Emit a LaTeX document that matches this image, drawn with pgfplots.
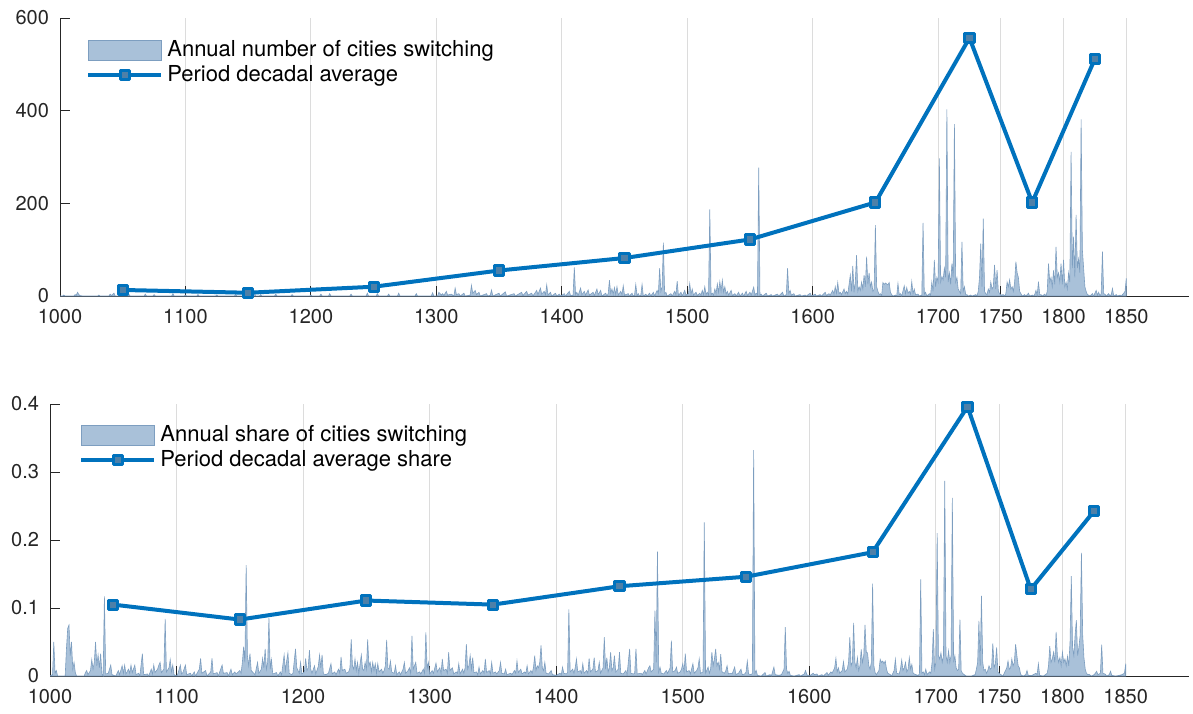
\documentclass[border=0pt]{standalone}
\usepackage{fontspec}
\setmainfont{TeX Gyre Heros}
\usepackage{pgfplots}
\pgfplotsset{compat=1.18}

\definecolor{linecol}{RGB}{0,114,189}
\definecolor{markfill}{RGB}{78,128,168}
\definecolor{areafill}{RGB}{169,193,217}
\definecolor{areaedge}{RGB}{125,158,192}
\definecolor{axiscol}{RGB}{38,38,38}
\definecolor{gridcol}{RGB}{220,220,220}

\pgfplotsset{
  panel/.style={
    scale only axis,
    anchor=south west,
    xmin=1000, xmax=1900,
    ymin=0,
    xtick={1000,1100,1200,1300,1400,1500,1600,1700,1750,1800,1850},
    axis lines=left,
    axis line style={-, draw=axiscol, line width=0.5pt},
    tick align=inside,
    major tick length=5pt,
    tick style={draw=axiscol, line width=0.5pt},
    xmajorgrids=true,
    major grid style={draw=gridcol, line width=0.4pt},
    ticklabel style={font=\fontsize{10}{12}\selectfont, text=axiscol},
    xticklabel style={yshift=-3pt},
    yticklabel style={xshift=-2pt},
    /pgf/number format/assume math mode=true,
    /pgf/number format/1000 sep={},
    legend cell align=left,
    legend style={draw=none, fill=none, inner sep=0pt, row sep=-1.2pt,
      font=\fontsize{11}{12}\selectfont, anchor=north west},
  },
  arealeg/.style={legend image code/.code={\path[##1] (0pt,-5pt) rectangle (36.5pt,5pt);}},
  lineleg/.style={legend image code/.code={\draw[mark repeat=2,mark phase=2,##1]
      plot coordinates {(0pt,0pt) (18.25pt,0pt) (36.5pt,0pt)};}},
  annual/.style={fill=areafill, draw=areaedge, line width=0.3pt, arealeg},
  decadal/.style={color=linecol, line width=2pt, mark=square*, mark size=2.3pt,
    mark options={draw=linecol, fill=markfill, line width=1.5pt, line join=round}, lineleg},
}

\begin{document}
\begin{tikzpicture}
\useasboundingbox (0pt,0pt) rectangle (596.5pt,356.5pt);

% top panel: number of cities
\begin{axis}[panel, at={(30pt,208.5pt)}, width=564.5pt, height=139pt,
  ymax=600, ytick={0,200,400,600},
  legend style={at={(0.023,0.935)}}]
\addplot[annual] table {
1000 0
1002 0
1003 2
1004 0
1011 0
1012 3
1013 2
1014 8
1015 3
1016 1
1018 0
1030 0
1031 2
1032 0
1039 0
1040 4
1041 1
1043 6
1044 0
1054 0
1055 3
1056 0
1067 0
1068 4
1069 0
1074 0
1075 3
1076 0
1089 0
1090 5
1091 0
1099 0
1100 2
1101 0
1109 0
1110 3
1111 0
1124 0
1125 2
1126 0
1139 0
1140 4
1141 0
1154 0
1155 7
1156 0
1159 0
1160 3
1161 0
1171 0
1172 4
1173 0
1184 0
1185 3
1186 0
1199 0
1200 2
1201 0
1207 0
1208 4
1209 0
1214 0
1215 5
1216 0
1231 0
1232 4
1233 0
1244 0
1245 6
1246 0
1252 0
1253 5
1254 0
1261 0
1262 4
1263 0
1269 0
1270 6
1271 0
1283 0
1284 5
1285 0
1296 0
1297 7
1298 0
1301 0
1302 8
1304 2
1305 5
1306 1
1308 10
1309 2
1312 4
1314 0
1315 17
1316 3
1318 5
1319 0
1322 6
1323 0
1327 2
1328 23
1329 6
1331 12
1332 3
1334 8
1335 0
1340 5
1341 0
1343 2
1344 13
1345 0
1350 6
1351 0
1355 9
1356 0
1362 5
1363 0
1368 8
1369 1
1372 10
1373 2
1376 6
1377 0
1380 12
1381 3
1383 17
1384 4
1386 10
1387 3
1388 24
1389 2
1391 8
1392 0
1395 6
1396 0
1398 4
1399 0
1402 5
1403 0
1406 10
1407 1
1409 2
1410 62
1411 3
1412 8
1413 1
1415 17
1416 3
1418 10
1419 2
1421 13
1422 2
1425 8
1426 1
1428 15
1429 3
1431 12
1432 0
1435 6
1436 0
1437 5
1438 34
1439 6
1440 15
1441 4
1442 18
1443 3
1444 20
1445 2
1447 10
1448 3
1449 22
1450 2
1453 5
1454 0
1456 6
1457 0
1458 2
1459 25
1460 1
1461 5
1462 0
1463 2
1464 25
1465 0
1467 4
1468 0
1470 6
1471 0
1473 8
1474 0
1476 12
1477 5
1478 60
1479 10
1480 20
1481 115
1482 5
1483 8
1484 0
1487 5
1488 0
1490 10
1491 3
1492 32
1493 1
1495 8
1496 0
1498 12
1499 2
1501 5
1502 27
1503 4
1504 15
1505 2
1507 8
1508 1
1510 6
1511 2
1512 12
1513 3
1514 20
1515 3
1516 8
1517 2
1518 187
1519 3
1520 6
1521 2
1522 15
1523 5
1524 26
1525 8
1526 31
1527 10
1528 34
1529 8
1530 20
1531 4
1532 10
1533 2
1535 12
1536 1
1538 5
1539 0
1541 8
1542 0
1544 6
1545 0
1547 10
1548 1
1550 8
1551 2
1553 19
1554 2
1555 6
1556 3
1557 277
1558 2
1559 4
1560 0
1563 6
1564 0
1567 3
1568 0
1572 4
1573 0
1576 8
1577 0
1579 3
1580 60
1581 5
1582 12
1583 2
1585 5
1586 0
1590 3
1591 0
1594 2
1595 0
1598 6
1599 0
1602 4
1603 0
1606 3
1607 0
1610 8
1611 1
1613 5
1614 2
1616 12
1617 4
1618 20
1619 6
1620 29
1621 5
1622 8
1623 3
1625 15
1626 5
1627 10
1628 4
1630 45
1631 10
1632 65
1633 8
1634 30
1635 88
1636 10
1637 20
1638 12
1639 30
1640 15
1641 45
1642 20
1643 85
1644 25
1645 50
1646 20
1647 30
1648 10
1649 15
1650 153
1651 20
1652 10
1653 3
1654 5
1655 1
1656 29
1657 25
1658 28
1659 26
1660 24
1661 29
1662 8
1663 3
1664 0
1666 2
1667 0
1668 27
1669 3
1670 5
1671 0
1673 22
1674 5
1675 18
1676 6
1677 10
1678 4
1679 31
1680 5
1681 15
1682 3
1684 4
1685 0
1687 2
1688 158
1689 4
1690 8
1691 0
1693 5
1694 2
1695 30
1696 10
1697 78
1698 20
1699 40
1700 30
1701 297
1702 30
1703 42
1704 35
1705 60
1706 40
1707 403
1708 30
1709 50
1710 25
1711 70
1712 40
1713 371
1714 30
1715 40
1716 15
1717 10
1718 5
1719 117
1720 10
1721 20
1722 3
1723 3
1724 0
1726 2
1727 0
1730 3
1731 0
1732 10
1733 40
1734 113
1735 20
1736 167
1737 10
1738 5
1739 3
1740 15
1741 8
1742 30
1743 15
1744 20
1745 67
1746 15
1747 56
1748 10
1749 5
1750 2
1752 3
1753 0
1754 5
1755 30
1756 20
1757 35
1758 15
1759 20
1760 10
1761 30
1762 74
1763 50
1764 40
1765 10
1766 5
1767 0
1769 3
1770 0
1772 6
1773 0
1775 2
1776 0
1777 3
1778 12
1779 2
1780 31
1781 3
1782 3
1783 0
1785 4
1786 0
1787 10
1788 70
1789 30
1790 40
1791 20
1792 55
1793 25
1794 106
1795 40
1796 50
1797 30
1798 70
1799 25
1800 78
1801 20
1802 30
1803 15
1804 50
1805 30
1806 311
1807 60
1808 128
1809 40
1810 175
1811 60
1812 80
1813 50
1814 381
1815 100
1816 60
1817 20
1818 10
1819 3
1820 2
1821 0
1823 5
1824 0
1826 12
1827 2
1828 8
1829 0
1830 5
1831 96
1832 5
1833 4
1834 0
1836 5
1837 0
1838 3
1839 16
1840 0
1842 3
1843 0
1845 2
1846 0
1848 6
1849 10
1850 38
} \closedcycle;
\addlegendentry{Annual number of cities switching}
\addplot[decadal] coordinates {
  (1050,13) (1150,7) (1250,20) (1350,55) (1450,82)
  (1550,122) (1650,202) (1725,557) (1775,202) (1825,512)
};
\addlegendentry{Period decadal average}
\end{axis}

% bottom panel: share of cities
\begin{axis}[panel, at={(25pt,18.5pt)}, width=569.5pt, height=136pt,
  ymax=0.4, ytick={0,0.1,0.2,0.3,0.4},
  legend style={at={(0.0255,0.937)}}]
\addplot[annual] table {
1000 0
1002 0.002
1003 0.05
1004 0.004
1005 0.008
1006 0
1012 0
1013 0.04
1014 0.07
1015 0.075
1016 0.03
1017 0.05
1018 0.01
1019 0.02
1020 0.005
1021 0
1027 0
1028 0.005
1029 0.008
1030 0.002
1032 0.008
1033 0.024
1034 0.01
1035 0.02
1036 0.05
1037 0.015
1038 0.031
1039 0.012
1040 0.033
1041 0.003
1042 0
1043 0.117
1044 0.003
1046 0.004
1048 0.016
1049 0.002
1052 0
1054 0.008
1055 0.002
1057 0.015
1058 0.004
1059 0.016
1060 0.003
1062 0.01
1063 0.004
1064 0.016
1065 0.005
1067 0.016
1068 0.002
1070 0.004
1071 0
1073 0.033
1074 0.002
1077 0.003
1078 0
1080 0.01
1081 0.003
1082 0.016
1083 0.005
1085 0.01
1086 0.016
1087 0.02
1088 0.005
1090 0.01
1091 0.084
1092 0.006
1094 0.012
1095 0.024
1096 0.006
1097 0.016
1098 0.002
1100 0
1101 0.003
1103 0.016
1104 0.003
1105 0.005
1107 0.016
1108 0.002
1111 0.004
1112 0
1114 0.006
1115 0
1118 0.01
1119 0.026
1120 0.004
1123 0.008
1124 0
1127 0.006
1128 0.026
1129 0.003
1132 0.005
1133 0
1136 0.016
1137 0.004
1140 0.005
1141 0
1143 0.01
1144 0.002
1146 0.006
1147 0.003
1150 0.008
1151 0.004
1152 0.02
1153 0.043
1154 0.02
1155 0.163
1156 0.03
1157 0.015
1158 0.033
1159 0.008
1161 0.004
1162 0.002
1164 0.02
1165 0.004
1167 0.01
1168 0.026
1169 0.012
1170 0.04
1171 0.01
1172 0.02
1173 0.085
1174 0.01
1175 0.024
1176 0.003
1179 0.005
1180 0
1182 0.006
1183 0.002
1185 0.031
1186 0.008
1187 0.022
1188 0.034
1189 0.004
1191 0.002
1192 0.004
1194 0.04
1195 0.012
1197 0.004
1198 0.02
1199 0.003
1201 0.006
1202 0.026
1203 0.008
1204 0.012
1205 0.038
1206 0.01
1207 0.004
1209 0.015
1210 0.003
1212 0.014
1213 0.031
1214 0.012
1215 0.031
1216 0.003
1218 0.002
1220 0.004
1222 0.018
1223 0.003
1225 0.006
1226 0.002
1228 0.01
1229 0.004
1230 0.028
1231 0.008
1233 0.01
1234 0.004
1236 0.006
1237 0.012
1238 0.054
1239 0.015
1240 0.01
1241 0.025
1242 0.008
1243 0.02
1244 0.004
1246 0.031
1247 0.01
1248 0.008
1249 0.02
1250 0.01
1251 0.054
1252 0.015
1253 0.02
1254 0.006
1255 0.02
1256 0.008
1257 0.018
1258 0.004
1259 0.018
1260 0.006
1262 0.01
1263 0.004
1264 0.008
1265 0.015
1266 0.053
1267 0.012
1268 0.01
1269 0.022
1270 0.006
1272 0.004
1273 0.015
1274 0.002
1276 0.006
1277 0.002
1279 0.01
1280 0.02
1281 0.004
1283 0.008
1284 0.012
1285 0.004
1286 0.059
1287 0.01
1289 0.02
1290 0.004
1292 0.006
1293 0.003
1295 0.01
1296 0.004
1297 0.064
1298 0.01
1299 0.02
1300 0.003
1302 0.008
1303 0.004
1305 0.019
1306 0.006
1308 0.012
1309 0.004
1310 0.025
1311 0.008
1313 0.01
1314 0.004
1315 0.035
1316 0.008
1318 0.012
1319 0.003
1321 0.006
1322 0.004
1323 0.018
1324 0.003
1326 0.01
1327 0.004
1328 0.012
1329 0.047
1330 0.01
1331 0.015
1332 0.03
1333 0.01
1334 0.027
1335 0.005
1337 0.006
1338 0.002
1339 0.013
1340 0.003
1342 0.008
1343 0.004
1344 0.025
1345 0.005
1347 0.008
1348 0.003
1349 0.02
1350 0.004
1352 0.006
1353 0.003
1355 0.008
1356 0.02
1357 0.004
1359 0.003
1360 0.01
1361 0.002
1364 0.004
1365 0.002
1367 0.008
1368 0.004
1369 0.022
1370 0.005
1372 0.01
1373 0.003
1375 0.006
1376 0.004
1377 0.015
1378 0.003
1380 0.008
1381 0.004
1382 0.012
1383 0.03
1384 0.008
1385 0.015
1386 0.012
1387 0.02
1388 0.045
1389 0.012
1390 0.008
1391 0.02
1392 0.004
1394 0.003
1396 0.008
1397 0.002
1400 0.001
1403 0.004
1404 0.002
1405 0.013
1406 0.004
1408 0.003
1409 0.005
1410 0.098
1411 0.006
1413 0.01
1414 0.004
1415 0.012
1416 0.025
1417 0.006
1419 0.008
1420 0.004
1421 0.018
1422 0.004
1424 0.008
1425 0.004
1426 0.026
1427 0.006
1429 0.01
1430 0.027
1431 0.006
1433 0.008
1434 0.02
1435 0.004
1437 0.012
1438 0.057
1439 0.01
1440 0.027
1441 0.006
1442 0.012
1443 0.035
1444 0.008
1445 0.012
1446 0.03
1447 0.006
1449 0.01
1450 0.035
1451 0.004
1453 0.003
1455 0.008
1456 0.002
1458 0.04
1459 0.004
1461 0.003
1462 0.004
1463 0.04
1464 0.003
1467 0.004
1468 0.002
1470 0.008
1471 0.003
1473 0.012
1474 0.015
1475 0.006
1477 0.01
1478 0.096
1479 0.02
1480 0.183
1481 0.006
1482 0.013
1483 0.004
1485 0.003
1487 0.008
1488 0.004
1490 0.012
1491 0.052
1492 0.006
1494 0.008
1495 0.013
1496 0.004
1498 0.006
1499 0.01
1500 0.018
1501 0.006
1502 0.033
1503 0.006
1505 0.008
1506 0.003
1508 0.018
1509 0.004
1511 0.008
1512 0.012
1513 0.025
1514 0.004
1516 0.006
1517 0.226
1518 0.004
1520 0.013
1521 0.004
1522 0.01
1523 0.035
1524 0.015
1525 0.025
1526 0.04
1527 0.015
1528 0.02
1529 0.01
1530 0.032
1531 0.006
1533 0.004
1534 0.008
1535 0.015
1536 0.003
1538 0.004
1539 0.003
1541 0.013
1542 0.002
1544 0.004
1546 0.01
1547 0.002
1549 0.003
1550 0.006
1551 0.022
1552 0.003
1554 0.002
1555 0.004
1556 0.332
1557 0.004
1558 0.008
1559 0.001
1562 0
1565 0.005
1566 0
1569 0.002
1570 0
1572 0.013
1573 0.002
1576 0.001
1578 0.002
1579 0.006
1580 0.01
1581 0.072
1582 0.01
1583 0.004
1584 0.007
1585 0.001
1588 0
1592 0.002
1593 0
1596 0.003
1597 0.008
1598 0.002
1600 0
1603 0.004
1604 0.002
1606 0.003
1607 0
1610 0.002
1611 0
1614 0.005
1615 0.001
1617 0.006
1618 0.004
1620 0.012
1621 0.026
1622 0.006
1623 0.012
1624 0.004
1626 0.008
1627 0.021
1628 0.006
1630 0.01
1631 0.02
1632 0.057
1633 0.015
1634 0.02
1635 0.078
1636 0.02
1637 0.012
1638 0.027
1639 0.008
1640 0.015
1641 0.039
1642 0.02
1643 0.03
1644 0.075
1645 0.035
1646 0.034
1647 0.015
1648 0.01
1649 0.02
1650 0.136
1651 0.015
1652 0.005
1653 0.002
1655 0.008
1656 0.0245
1657 0.02
1658 0.022
1659 0.018
1660 0.022
1661 0.01
1662 0.004
1664 0.002
1665 0
1667 0.008
1668 0.0245
1669 0.004
1671 0.003
1672 0.01
1673 0.0235
1674 0.008
1675 0.012
1676 0.02
1677 0.006
1678 0.01
1679 0.027
1680 0.01
1681 0.017
1682 0.004
1684 0.002
1686 0.001
1687 0.003
1688 0.142
1689 0.004
1690 0.006
1691 0.002
1692 0.01
1693 0.002
1695 0.006
1696 0.004
1697 0.02
1698 0.069
1699 0.01
1700 0.02
1701 0.21
1702 0.03
1703 0.025
1704 0.034
1705 0.02
1706 0.03
1707 0.287
1708 0.03
1709 0.02
1710 0.037
1711 0.02
1712 0.03
1713 0.262
1714 0.02
1715 0.03
1716 0.012
1717 0.008
1718 0.01
1719 0.083
1720 0.008
1721 0.004
1722 0.0025
1724 0
1728 0
1731 0.002
1732 0.01
1733 0.02
1734 0.081
1735 0.015
1736 0.118
1737 0.02
1738 0.008
1739 0.01
1740 0.004
1741 0.008
1742 0.015
1743 0.01
1744 0.012
1745 0.048
1746 0.012
1747 0.018
1748 0.042
1749 0.006
1750 0.004
1751 0.0025
1753 0
1755 0.008
1756 0.012
1757 0.022
1758 0.01
1759 0.012
1760 0.025
1761 0.015
1762 0.02
1763 0.047
1764 0.03
1765 0.015
1766 0.012
1767 0.002
1769 0
1771 0.002
1772 0.008
1773 0.001
1776 0.001
1777 0.002
1779 0.004
1780 0.002
1781 0.018
1782 0.001
1785 0
1788 0.004
1789 0.015
1790 0.044
1791 0.02
1792 0.025
1793 0.035
1794 0.02
1795 0.065
1796 0.03
1797 0.02
1798 0.027
1799 0.015
1800 0.035
1801 0.02
1802 0.025
1803 0.015
1804 0.029
1805 0.015
1806 0.05
1807 0.147
1808 0.042
1809 0.03
1810 0.06
1811 0.082
1812 0.03
1813 0.042
1814 0.06
1815 0.181
1816 0.06
1817 0.027
1818 0.01
1819 0.004
1820 0.002
1821 0.0025
1823 0
1825 0.002
1826 0.004
1827 0.007
1828 0.002
1830 0.004
1831 0.046
1832 0.004
1834 0.0025
1835 0
1837 0.002
1838 0.007
1839 0.001
1842 0
1845 0.001
1847 0.002
1849 0.004
1850 0.018
} \closedcycle;
\addlegendentry{Annual share of cities switching}
\addplot[decadal] coordinates {
  (1050,0.105) (1150,0.083) (1250,0.111) (1350,0.105) (1450,0.132)
  (1550,0.146) (1650,0.182) (1725,0.396) (1775,0.1275) (1825,0.2426)
};
\addlegendentry{Period decadal average share}
\end{axis}
\end{tikzpicture}
\end{document}
